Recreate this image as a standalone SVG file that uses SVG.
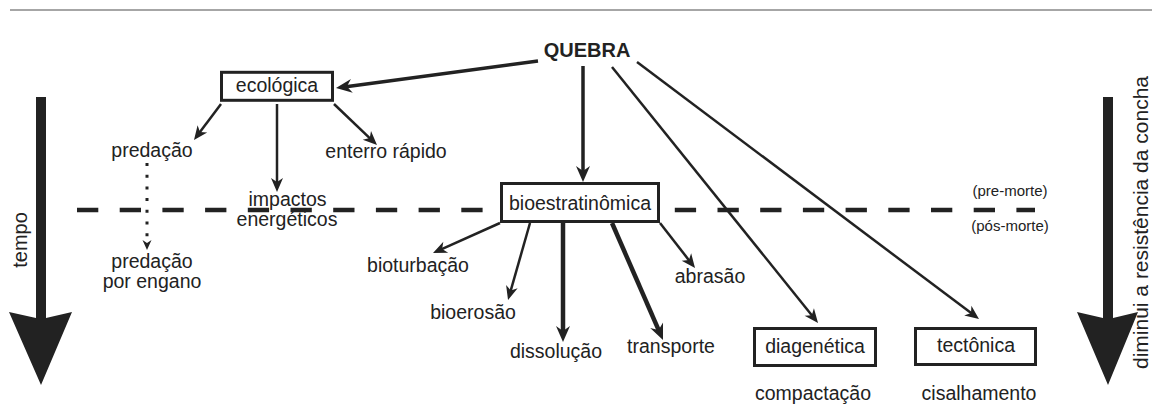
<svg xmlns="http://www.w3.org/2000/svg" width="1156" height="411" viewBox="0 0 1156 411">
<defs>
<style>
text{font-family:"Liberation Sans",Arial,sans-serif;font-size:19.5px;fill:#222;text-anchor:middle}
.small{font-size:15px}
.bold{font-weight:bold;font-size:20px}
.box{fill:#fff;stroke:#222;stroke-width:3}
.c{stroke:#222;fill:none;stroke-linecap:butt}
.t{stroke-width:2.5}
.m{stroke-width:3.5}
.k{stroke-width:4.5}
</style>
<marker id="ah" markerUnits="userSpaceOnUse" markerWidth="14" markerHeight="12" refX="5" refY="6" orient="auto" overflow="visible">
<path d="M0,0 L14,6 L0,12 L4,6 z" fill="#222"/>
</marker>
<marker id="ahL" markerUnits="userSpaceOnUse" markerWidth="16" markerHeight="14" refX="6" refY="7" orient="auto" overflow="visible">
<path d="M0,0 L16,7 L0,14 L5,7 z" fill="#222"/>
</marker>
<marker id="ahS" markerUnits="userSpaceOnUse" markerWidth="10" markerHeight="9" refX="3" refY="4.5" orient="auto" overflow="visible">
<path d="M0,0 L10,4.5 L0,9 L3,4.5 z" fill="#222"/>
</marker>
</defs>
<rect width="1156" height="411" fill="#fff"/>
<line x1="10" y1="10" x2="1152" y2="10" stroke="#888" stroke-width="1.5"/>

<g id="axes">
<polygon points="36,97 36,318 9,312 41,385 72,312 46,318 46,97" fill="#222"/>
<text transform="translate(27,240) rotate(-90)" style="font-size:20px">tempo</text>
<polygon points="1103,97 1103,318 1077,312 1108,385 1138,312 1113,318 1113,97" fill="#222"/>
<text transform="translate(1148,222.5) rotate(-90)" style="font-size:21px">diminui a resistência da concha</text>
</g>

<g id="boundary">
<line x1="77" y1="210" x2="1035" y2="210" stroke="#222" stroke-width="4.5" stroke-dasharray="21.3 21.4"/>
<text class="small" x="1010" y="196">(pre-morte)</text>
<text class="small" x="1010" y="231">(pós-morte)</text>
</g>

<g id="connectors">
<line class="c m" x1="538" y1="61" x2="345.9" y2="86.7" marker-end="url(#ahL)"/>
<line class="c t" x1="221" y1="104" x2="199.4" y2="132.8" marker-end="url(#ah)"/>
<line class="c t" x1="277" y1="104" x2="277" y2="183" marker-end="url(#ah)"/>
<line class="c t" x1="334" y1="104" x2="370.5" y2="138.8" marker-end="url(#ah)"/>
<line class="c" x1="147" y1="163" x2="147" y2="243" stroke-width="3" stroke-dasharray="3 8.7" marker-end="url(#ahS)"/>
<line class="c m" x1="583" y1="66" x2="583" y2="172" marker-end="url(#ahL)"/>
<line class="c t" x1="612" y1="67" x2="812.4" y2="316" marker-end="url(#ah)"/>
<line class="c t" x1="637" y1="62" x2="971.8" y2="313.6" marker-end="url(#ah)"/>
<line class="c t" x1="500" y1="223" x2="441.2" y2="249.3" marker-end="url(#ah)"/>
<line class="c t" x1="530" y1="223" x2="510.5" y2="291.4" marker-end="url(#ah)"/>
<line class="c k" x1="563" y1="223" x2="563" y2="332" marker-end="url(#ahL)"/>
<line class="c k" x1="612" y1="223" x2="659" y2="330.8" marker-end="url(#ahL)"/>
<line class="c t" x1="660" y1="223" x2="689.5" y2="260.9" marker-end="url(#ah)"/>
</g>

<g id="quebra"><text class="bold" x="587" y="57">QUEBRA</text></g>
<g id="ecologica">
<rect class="box" x="221.5" y="72.3" width="111" height="28"/>
<text x="277" y="92">ecológica</text>
</g>
<g id="predacao"><text x="152" y="157">predação</text></g>
<g id="enterro"><text x="386" y="158">enterro rápido</text></g>
<g id="impactos"><text x="287.5" y="206">impactos</text><text x="287" y="226">energéticos</text></g>
<g id="predacao-engano"><text x="152" y="268">predação</text><text x="152" y="288">por engano</text></g>
<g id="bioestratinomica">
<rect class="box" x="501.5" y="183.5" width="157" height="38"/>
<text x="580" y="210">bioestratinômica</text>
</g>
<g id="bioturbacao"><text x="418" y="272">bioturbação</text></g>
<g id="bioerosao"><text x="473" y="319">bioerosão</text></g>
<g id="dissolucao"><text x="556" y="358">dissolução</text></g>
<g id="transporte"><text x="671" y="353">transporte</text></g>
<g id="abrasao"><text x="710" y="283">abrasão</text></g>
<g id="diagenetica">
<rect class="box" x="754.5" y="328.5" width="121" height="37"/>
<text x="815" y="353">diagenética</text>
</g>
<g id="tectonica">
<rect class="box" x="915.5" y="328.5" width="120" height="36"/>
<text x="976" y="352">tectônica</text>
</g>
<g id="compactacao"><text x="813" y="400">compactação</text></g>
<g id="cisalhamento"><text x="979" y="400">cisalhamento</text></g>
</svg>
